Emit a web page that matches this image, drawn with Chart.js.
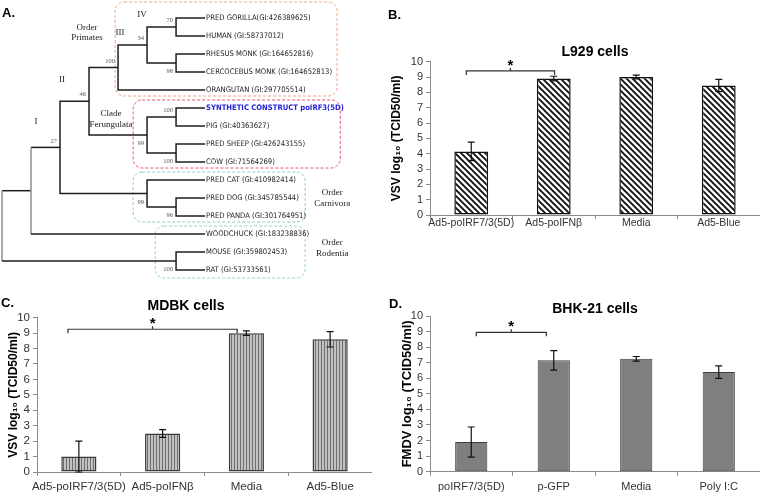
<!DOCTYPE html>
<html lang="en">
<head>
<meta charset="UTF-8">
<title>IRF figure</title>
<script src="https://cdn.jsdelivr.net/npm/chart.js@4.4.1/dist/chart.umd.min.js"></script>
<style>
  body { margin: 0; background: #fff; }
  #fig { position: relative; width: 760px; height: 493px; overflow: hidden; }
  #fig canvas { position: absolute; }
  .tag { position: absolute; font: bold 13px/13px "Liberation Sans", Arial, sans-serif; color: #000; }
</style>
</head>
<body>
<div id="fig">
  <canvas id="tree" width="380" height="290" style="left:0;top:0"></canvas>
  <canvas id="l929" width="380" height="250" style="left:380px;top:0"></canvas>
  <canvas id="mdbk" width="372" height="243" style="left:0;top:250px"></canvas>
  <canvas id="bhk" width="380" height="243" style="left:380px;top:250px"></canvas>
  <div class="tag" style="left:2px;top:6px">A.</div>
  <div class="tag" style="left:388px;top:8px">B.</div>
  <div class="tag" style="left:1px;top:296px">C.</div>
  <div class="tag" style="left:389px;top:297px">D.</div>
</div>
<script>
// ---- panel A: tree data ----
const leaves = [
  'PRED GORILLA(GI:426389625)', 'HUMAN (GI:58737012)', 'RHESUS MONK (GI:164652816)',
  'CERCOCEBUS MONK (GI:164652813)', 'ORANGUTAN (GI:297705514)', 'SYNTHETIC CONSTRUCT poIRF3(5D)',
  'PIG (GI:40363627)', 'PRED SHEEP (GI:426243155)', 'COW (GI:71564269)',
  'PRED CAT (GI:410982414)', 'PRED DOG (GI:345785544)', 'PRED PANDA (GI:301764951)',
  'WOODCHUCK (GI:183238836)', 'MOUSE (GI:359802453)', 'RAT (GI:53733561)'
];
const highlightLeaf = 5;
const leafDepth = 7;

// d = depth of node, boot = bootstrap value, side = label above/below branch
const tree = { d: 0, grey: true, kids: [
  { d: 1, grey: true, kids: [
    { d: 2, boot: '27', side: 'a', kids: [
      { d: 3, boot: '46', side: 'a', kids: [
        { d: 4, boot: '100', side: 'a', kids: [
          { d: 5, boot: '34', side: 'a', kids: [
            { d: 6, boot: '70', side: 'a', kids: [0, 1] },
            { d: 6, boot: '98', side: 'b', kids: [2, 3] } ] },
          4 ] },
        { d: 5, boot: '99', side: 'b', kids: [
          { d: 6, boot: '100', side: 'a', kids: [5, 6] },
          { d: 6, boot: '100', side: 'b', kids: [7, 8] } ] } ] },
      { d: 5, boot: '99', side: 'b', kids: [
        9,
        { d: 6, boot: '96', side: 'b', kids: [10, 11] } ] } ] },
    12 ] },
  { d: 6, boot: '100', side: 'b', kids: [13, 14] } ] };

const clades = [
  { lines: ['Order', 'Primates'], first: 0, last: 4, d0: 3.9, d1: 11.55, color: '#f0a585' },
  { lines: ['Clade', 'Ferungulata'], first: 5, last: 8, d0: 4.52, d1: 11.66, color: '#e4576f' },
  { lines: ['Order', 'Carnivora'], first: 9, last: 11, d0: 4.52, d1: 10.45, color: '#8ccbd0' },
  { lines: ['Order', 'Rodentia'], first: 12, last: 14, d0: 5.28, d1: 10.45, color: '#93d6b4' }
];
const romans = ['IV', 'III', 'II', 'I'];

// ---- panels B, C, D: bar data ----
const catsB = ['Ad5-poIRF7/3(5D)', 'Ad5-poIFNβ', 'Media', 'Ad5-Blue'];
const valsB = [4.15, 8.9, 9.0, 8.45];
const errB = [0.6, 0.15, 0.12, 0.4];
const sigB = { from: -0.06, to: 1.01, y: 9.4 };

const catsC = ['Ad5-poIRF7/3(5D)', 'Ad5-poIFNβ', 'Media', 'Ad5-Blue'];
const valsC = [1.0, 2.5, 9.0, 8.6];
const errC = [1.0, 0.25, 0.15, 0.5];
const sigC = { from: -0.13, to: 1.89, y: 9.25 };

const catsD = ['poIRF7/3(5D)', 'p-GFP', 'Media', 'Poly I:C'];
const valsD = [1.9, 7.15, 7.25, 6.4];
const errD = [0.97, 0.62, 0.15, 0.4];
const sigD = { from: 0.06, to: 0.91, y: 8.95 };

const FONT = '"Liberation Sans", Arial, sans-serif';
const NARROW = '"Liberation Sans Narrow", "Arial Narrow", "DejaVu Sans Condensed", sans-serif';
const SERIF = '"Liberation Serif", "Times New Roman", serif';
Chart.defaults.font.family = FONT;

// ---------- tree ----------
const branchSets = [];
const nodeList = [];
function walk(n) {
  if (typeof n === 'number') return { d: leafDepth, y: n };
  const k = n.kids.map(walk);
  const a = k[0], b = k[k.length - 1];
  const y = (a.y + b.y) / 2;
  branchSets.push({
    data: [{ x: a.d, y: a.y }, { x: n.d, y: a.y }, { x: n.d, y: b.y }, { x: b.d, y: b.y }],
    showLine: true,
    borderColor: '#1e1e1e',
    borderWidth: 1.5,
    pointRadius: 0,
    segment: { borderColor: s => (n.grey && s.p0DataIndex === 1) ? '#8e8e8e' : '#1e1e1e' }
  });
  nodeList.push({ d: n.d, y, boot: n.boot, side: n.side });
  return { d: n.d, y };
}
walk(tree);

const treeDecor = {
  id: 'treeDecor',
  beforeDatasetsDraw(chart) {
    const { ctx, scales: { x, y } } = chart;
    ctx.save();
    ctx.lineWidth = 1;
    ctx.setLineDash([3, 2]);
    clades.forEach((c, i) => {
      const x0 = x.getPixelForValue(c.d0), x1 = x.getPixelForValue(c.d1);
      const y0 = y.getPixelForValue(c.first) - (i === 0 ? 16 : 8);
      const y1 = y.getPixelForValue(c.last) + (i === 3 ? 8 : 6);
      ctx.strokeStyle = c.color;
      ctx.beginPath();
      ctx.roundRect(x0, y0, x1 - x0, y1 - y0, 9);
      ctx.stroke();
    });
    ctx.restore();
  },
  afterDatasetsDraw(chart) {
    const { ctx, scales: { x, y } } = chart;
    ctx.save();
    // leaf names
    ctx.textBaseline = 'middle';
    ctx.textAlign = 'left';
    const tip = x.getPixelForValue(leafDepth);
    leaves.forEach((name, i) => {
      const hi = i === highlightLeaf;
      ctx.font = (hi ? 'bold ' : '') + '7.6px ' + NARROW;
      ctx.fillStyle = hi ? '#2323d8' : '#222';
      ctx.fillText(name, tip + 1, y.getPixelForValue(i));
    });
    // bootstrap values
    ctx.font = '6.5px ' + SERIF;
    ctx.fillStyle = '#555';
    ctx.textAlign = 'right';
    nodeList.forEach(n => {
      if (!n.boot) return;
      const py = y.getPixelForValue(n.y) + (n.side === 'a' ? -6.5 : 8.5);
      ctx.fillText(n.boot, x.getPixelForValue(n.d) - 3, py);
    });
    // roman numerals above the deep nodes
    ctx.font = '9px ' + SERIF;
    ctx.fillStyle = '#222';
    ctx.textAlign = 'center';
    const romanAt = [[4.83, -0.17], [4.07, 0.83], [2.07, 3.44], [1.17, 5.78]];
    romans.forEach((r, i) => ctx.fillText(r, x.getPixelForValue(romanAt[i][0]), y.getPixelForValue(romanAt[i][1])));
    // clade names
    const cladeAt = [[2.93, 0.53], [3.76, 5.33], [11.38, 9.72], [11.38, 12.5]];
    clades.forEach((c, i) => {
      c.lines.forEach((t, j) => ctx.fillText(t, x.getPixelForValue(cladeAt[i][0]), y.getPixelForValue(cladeAt[i][1] + j * 0.58)));
    });
    ctx.restore();
  }
};

new Chart(document.getElementById('tree'), {
  type: 'scatter',
  data: { datasets: branchSets },
  options: {
    responsive: false,
    animation: false,
    layout: { padding: 0 },
    elements: { line: { tension: 0 } },
    scales: {
      x: { type: 'linear', display: false, min: -0.069, max: 13.03 },
      y: { type: 'linear', display: false, min: -1, max: 15.11, reverse: true }
    },
    plugins: { legend: { display: false }, tooltip: { enabled: false } }
  },
  plugins: [treeDecor]
});

// ---------- bars ----------
function hatch() {
  const c = document.createElement('canvas');
  c.width = 6; c.height = 6;
  const g = c.getContext('2d');
  g.fillStyle = '#fff'; g.fillRect(0, 0, 6, 6);
  g.strokeStyle = '#111'; g.lineWidth = 1.9;
  g.beginPath();
  g.moveTo(-1, -1); g.lineTo(7, 7);
  g.moveTo(-4, 2); g.lineTo(2, 8);
  g.moveTo(2, -4); g.lineTo(8, 2);
  g.stroke();
  return g.createPattern(c, 'repeat');
}
function stripes() {
  const c = document.createElement('canvas');
  c.width = 3; c.height = 4;
  const g = c.getContext('2d');
  g.fillStyle = '#c2c2c2'; g.fillRect(0, 0, 3, 4);
  g.fillStyle = '#6e6e6e'; g.fillRect(0, 0, 1, 4);
  return g.createPattern(c, 'repeat');
}

const extras = {
  id: 'extras',
  afterDatasetsDraw(chart, args, opts) {
    const { ctx, scales: { x, y } } = chart;
    const vals = chart.data.datasets[0].data;
    ctx.save();
    ctx.strokeStyle = '#111';
    ctx.lineWidth = 1.2;
    ctx.beginPath();
    opts.err.forEach((e, i) => {
      const px = x.getPixelForValue(i);
      const lo = y.getPixelForValue(vals[i] - e), hi = y.getPixelForValue(vals[i] + e);
      ctx.moveTo(px, lo); ctx.lineTo(px, hi);
      ctx.moveTo(px - 3.5, lo); ctx.lineTo(px + 3.5, lo);
      ctx.moveTo(px - 3.5, hi); ctx.lineTo(px + 3.5, hi);
    });
    ctx.stroke();
    // significance bracket
    const s = opts.sig;
    const x0 = x.getPixelForValue(s.from), x1 = x.getPixelForValue(s.to);
    const xm = (x0 + x1) / 2, by = y.getPixelForValue(s.y);
    ctx.strokeStyle = '#333';
    ctx.lineWidth = 1.2;
    ctx.beginPath();
    ctx.moveTo(x0, by + 4); ctx.lineTo(x0, by); ctx.lineTo(x1, by); ctx.lineTo(x1, by + 4);
    ctx.moveTo(xm, by); ctx.lineTo(xm, by - 3);
    ctx.stroke();
    ctx.fillStyle = '#000';
    ctx.font = 'bold 15px ' + FONT;
    ctx.textAlign = 'center';
    ctx.textBaseline = 'alphabetic';
    ctx.fillText('*', xm, by - 1);
    ctx.restore();
  }
};

function barChart(id, cats, vals, err, sig, st) {
  return new Chart(document.getElementById(id), {
    type: 'bar',
    data: {
      labels: cats,
      datasets: [{
        data: vals,
        backgroundColor: st.fill,
        borderColor: st.edge,
        borderWidth: st.edgeW,
        borderSkipped: false,
        barPercentage: st.barPct,
        categoryPercentage: 1
      }]
    },
    options: {
      responsive: false,
      animation: false,
      layout: { padding: { top: st.padTop, left: 0, right: 0, bottom: 0 } },
      scales: {
        x: {
          afterFit: sc => { sc.height = st.xH; },
          grid: { drawOnChartArea: false, color: '#8a8a8a', tickLength: 4 },
          border: { color: '#8a8a8a' },
          ticks: { color: '#333', font: { size: st.tick }, padding: st.xPad, maxRotation: 0, autoSkip: false }
        },
        y: {
          min: 0, max: 10,
          afterFit: sc => { sc.width = st.yW; },
          grid: { drawOnChartArea: false, color: '#8a8a8a', tickLength: 4 },
          border: { color: '#8a8a8a' },
          ticks: { stepSize: 1, autoSkip: false, color: '#333', font: { size: st.yTick }, padding: 3 },
          title: {
            display: true, text: st.yTitle, color: '#000',
            font: { size: st.yTitleSize, weight: 'bold' },
            padding: { top: st.yTitlePad, bottom: 0 }
          }
        }
      },
      plugins: {
        legend: { display: false },
        tooltip: { enabled: false },
        title: {
          display: true, text: st.title, fullSize: st.fullSize, color: '#000',
          font: { size: 14, weight: 'bold', lineHeight: st.titleLH },
          padding: { top: 0, bottom: st.titlePadB }
        },
        extras: { err, sig }
      }
    },
    plugins: [extras]
  });
}

barChart('l929', catsB, valsB, errB, sigB, {
  fill: hatch(), edge: '#111', edgeW: 1.5, barPct: 0.41,
  padTop: 43.6, titleLH: 1.2, titlePadB: 1.3, fullSize: false, title: 'L929 cells',
  xH: 35, yW: 50, tick: 10.5, yTick: 11, xPad: -2,
  yTitle: 'VSV log₁₀ (TCID50/ml)', yTitleSize: 12, yTitlePad: 9
});
barChart('mdbk', catsC, valsC, errC, sigC, {
  fill: stripes(), edge: '#3a3a3a', edgeW: 1.5, barPct: 0.42,
  padTop: 47.6, titleLH: 1.2, titlePadB: 3.3, fullSize: true, title: 'MDBK cells',
  xH: 21, yW: 37, tick: 11.5, yTick: 11.5, xPad: 4,
  yTitle: 'VSV log₁₀ (TCID50/ml)', yTitleSize: 12, yTitlePad: 6
});
barChart('bhk', catsD, valsD, errD, sigD, {
  fill: '#7f7f7f', edge: '#3c3c3c', edgeW: 1, barPct: 0.39,
  padTop: 52, titleLH: 1.0, titlePadB: 0, fullSize: false, title: 'BHK-21 cells',
  xH: 21.3, yW: 50, tick: 11, yTick: 11, xPad: 5,
  yTitle: 'FMDV log₁₀ (TCID50/ml)', yTitleSize: 13, yTitlePad: 20
});
</script>
</body>
</html>
